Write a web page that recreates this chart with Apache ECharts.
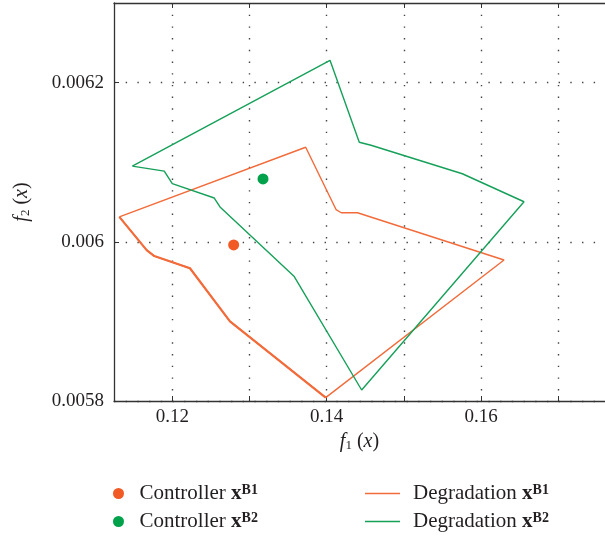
<!DOCTYPE html>
<html><head><meta charset="utf-8">
<script src="https://cdn.jsdelivr.net/npm/echarts@6/dist/echarts.min.js"></script>
<style>html,body{margin:0;padding:0;background:#fff}#c{width:605px;height:536px}</style>
</head><body><div id="c"></div>
<script>
// Degradation x^B1 polygon (f1, f2)
const b1X = [0.11314, 0.13728, 0.14121, 0.14189, 0.14399, 0.16297, 0.13987, 0.12747, 0.12229, 0.11767, 0.11668, 0.11314];
const b1Y = [0.0060313, 0.0061188, 0.0060405, 0.0060365, 0.0060365, 0.0059771, 0.0058043, 0.0059000, 0.0059668, 0.0059821, 0.0059896, 0.0060313];
// Degradation x^B2 polygon (f1, f2)
const b2X = [0.11482, 0.14043, 0.14422, 0.14574, 0.15757, 0.16556, 0.14453, 0.13580, 0.12618, 0.12544, 0.12000, 0.11896, 0.11482];
const b2Y = [0.0060950, 0.0062280, 0.0061250, 0.0061213, 0.0060855, 0.0060503, 0.0058138, 0.0059563, 0.0060438, 0.0060550, 0.0060730, 0.0060888, 0.0060950];
// Controllers
const ctrlB1 = [0.12795, 0.005996];
const ctrlB2 = [0.13175, 0.006079];
// Axis ticks
const xTicks = [0.12, 0.13, 0.14, 0.15, 0.16, 0.17];
const xLabels = [0.12, 0.14, 0.16];
const yTicks = [0.0058, 0.006, 0.0062];

const FONT = 'Liberation Serif';
const ORANGE = '#F26B3A', ORANGE_DOT = '#F15A24';
const GREEN = '#16A05A', GREEN_DOT = '#00A14B';

const zip = (xs, ys) => xs.map((x, i) => [x, ys[i]]);
const b1 = zip(b1X, b1Y);
const b1Thick = b1.slice(6); // lower-left chain drawn heavier

const legendRich = {
  n: {fontFamily: FONT, fontSize: 21, color: '#231f20', lineHeight: 23},
  x: {fontFamily: FONT, fontSize: 21, fontWeight: 'bold', color: '#231f20', lineHeight: 23},
  s: {fontFamily: FONT, fontSize: 14, fontWeight: 'bold', color: '#231f20', padding: [0, 0, 7, 0]}
};
const legendFmt = name => {
  const p = name.split(' ');
  return '{n|' + p[0] + ' }{x|x}{s|' + p[1] + '}';
};

const chart = echarts.init(document.getElementById('c'), null, {renderer: 'canvas'});
chart.setOption({
  animation: false,
  backgroundColor: '#fff',
  grid: {left: 114, top: 3, right: 0, bottom: 135, containLabel: false, outerBoundsMode: 'none'},
  legend: [
    {data: [{name: 'Controller B1', icon: 'circle'}, {name: 'Controller B2', icon: 'circle'}],
     orient: 'vertical', left: 113, top: 483, height: 70, padding: 0, itemWidth: 32, itemHeight: 11, itemGap: 7,
     formatter: legendFmt, textStyle: {rich: legendRich}},
    {data: [{name: 'Degradation B1', icon: 'rect'}, {name: 'Degradation B2', icon: 'rect'}],
     orient: 'vertical', left: 365, top: 483, height: 70, padding: 0, itemWidth: 35, itemHeight: 1.5, itemGap: 7,
     formatter: legendFmt, textStyle: {rich: legendRich, padding: [0, 0, 0, 8]}}
  ],
  xAxis: [{
    type: 'value', min: 0.11245, max: 0.17605, position: 'bottom',
    axisLine: {show: true, onZero: false, lineStyle: {color: '#333', width: 1.3}},
    axisTick: {show: true, inside: true, length: 5, customValues: xTicks, lineStyle: {color: '#333'}},
    axisLabel: {customValues: xLabels, margin: 7, fontFamily: FONT, fontSize: 19, color: '#231f20'},
    splitLine: {show: true, lineStyle: {color: '#444', width: 1.4, type: [1.4, 10.3]}},
    name: '{f|f}{sub|1}{t| (}{f|x}{t|)}', nameLocation: 'middle', nameGap: 30,
    nameTextStyle: {rich: {
      f: {fontFamily: FONT, fontStyle: 'italic', fontSize: 20, color: '#231f20'},
      sub: {fontFamily: FONT, fontSize: 13, color: '#231f20', padding: [7, 0, 0, 0]},
      t: {fontFamily: FONT, fontSize: 20, color: '#231f20'}
    }}
  }, {
    type: 'value', min: 0.11245, max: 0.17605, position: 'top',
    axisLine: {show: true, onZero: false, lineStyle: {color: '#333', width: 1.3}},
    axisTick: {show: true, inside: true, length: 5, customValues: xTicks, lineStyle: {color: '#333'}},
    axisLabel: {show: false}, splitLine: {show: false}
  }],
  yAxis: {
    type: 'value', min: 0.0058, max: 0.0063,
    axisLine: {show: true, onZero: false, lineStyle: {color: '#333', width: 1.3}},
    axisTick: {show: true, inside: true, length: 5, customValues: yTicks, lineStyle: {color: '#333'}},
    axisLabel: {customValues: yTicks, margin: 10, fontFamily: FONT, fontSize: 19, color: '#231f20'},
    splitLine: {show: true, lineStyle: {color: '#444', width: 1.4, type: [1.4, 10.3]}},
    name: '{f|f}{sub|2}{t| (}{f|x}{t|)}', nameLocation: 'middle', nameGap: 82, nameRotate: 90,
    nameTextStyle: {rich: {
      f: {fontFamily: FONT, fontStyle: 'italic', fontSize: 20, color: '#231f20'},
      sub: {fontFamily: FONT, fontSize: 13, color: '#231f20', padding: [7, 0, 0, 0]},
      t: {fontFamily: FONT, fontSize: 20, color: '#231f20'}
    }}
  },
  series: [
    {name: 'Degradation B1', type: 'line', data: b1, showSymbol: false, symbol: 'none',
     color: ORANGE, lineStyle: {color: ORANGE, width: 1.4}, z: 3},
    {name: '_b1thick', type: 'line', data: b1Thick, showSymbol: false, symbol: 'none',
     color: ORANGE, lineStyle: {color: ORANGE, width: 2.2}, z: 3},
    {name: 'Degradation B2', type: 'line', data: zip(b2X, b2Y), showSymbol: false, symbol: 'none',
     color: GREEN, lineStyle: {color: GREEN, width: 1.4}, z: 3},
    {name: 'Controller B1', type: 'scatter', data: [ctrlB1], symbolSize: 11,
     itemStyle: {color: ORANGE_DOT, opacity: 1}, z: 4},
    {name: 'Controller B2', type: 'scatter', data: [ctrlB2], symbolSize: 11,
     itemStyle: {color: GREEN_DOT, opacity: 1}, z: 4}
  ]
});
</script></body></html>
